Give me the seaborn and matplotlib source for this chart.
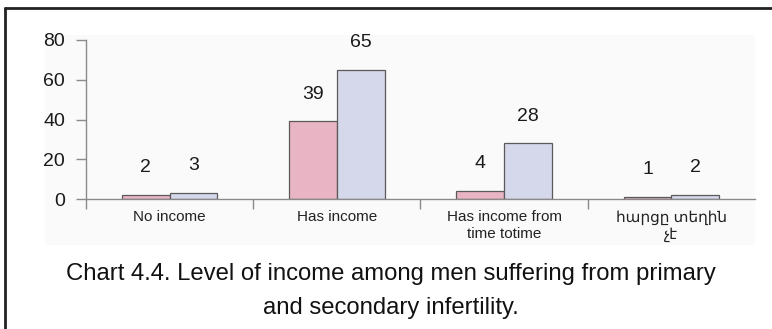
import matplotlib
matplotlib.use("Agg")
import matplotlib.pyplot as plt
import pandas as pd
import seaborn as sns
from matplotlib.lines import Line2D
from matplotlib.patches import Rectangle


CATEGORIES = ["No income", "Has income", "Has income from\ntime totime", "հարցը տեղին\nչէ"]
GROUPS = ["Primary infertility", "Secondary infertility"]
PRIMARY = [2, 39, 4, 1]
SECONDARY = [3, 65, 28, 2]
Y_TICKS = [0, 20, 40, 60, 80]
TITLE = "Chart 4.4. Level of income among men suffering from primary\nand secondary infertility."

COLORS = ["#e9b4c4", "#d5d7ea"]
AXIS_GREY = "#8a8a8a"
FONT = ["Liberation Sans", "DejaVu Sans"]


def build_frame():
    rows = []
    for group, values in zip(GROUPS, [PRIMARY, SECONDARY]):
        for cat, val in zip(CATEGORIES, values):
            rows.append({"category": cat, "group": group, "value": val})
    return pd.DataFrame(rows)


def main():
    sns.set_style("white")
    plt.rcParams["font.family"] = FONT

    df = build_frame()
    fig = plt.figure(figsize=(7.72, 3.29), dpi=100)

    # light panel behind the chart and the frame lines of the page
    fig.patches.append(Rectangle((45 / 772, 1 - 245 / 329), 710 / 772, 210 / 329,
                                 transform=fig.transFigure, facecolor="#fafafa",
                                 edgecolor="none", zorder=-5))
    fig.lines.append(Line2D([5 / 772, 1], [1 - 8 / 329, 1 - 8 / 329], transform=fig.transFigure,
                            color="#222222", linewidth=2))
    fig.lines.append(Line2D([5 / 772, 5 / 772], [0, 1 - 8 / 329], transform=fig.transFigure,
                            color="#222222", linewidth=2))

    ax = fig.add_axes([86 / 772, 1 - 199 / 329, 669 / 772, 159 / 329])
    ax.set_zorder(2)
    ax.set_facecolor("none")

    sns.barplot(data=df, x="category", y="value", hue="group", order=CATEGORIES,
                hue_order=GROUPS, palette=COLORS, saturation=1, width=0.57,
                edgecolor="#5a5a5a", linewidth=0.9, legend=False, ax=ax)

    for container in ax.containers:
        ax.bar_label(container, padding=13.5, fontsize=14, color="#1a1a1a")

    ax.set_xlim(-0.5, 3.5)
    ax.set_ylim(0, 80)
    ax.set_yticks(Y_TICKS)
    ax.set_xlabel("")
    ax.set_ylabel("")

    for side in ["top", "right"]:
        ax.spines[side].set_visible(False)
    for side in ["left", "bottom"]:
        ax.spines[side].set_color(AXIS_GREY)
        ax.spines[side].set_linewidth(1)

    ax.tick_params(axis="y", length=7, width=1, color=AXIS_GREY, pad=8,
                   labelsize=14, labelcolor="#1a1a1a", left=True)
    ax.tick_params(axis="x", which="major", length=0, pad=8, labelsize=11, labelcolor="#222222")
    ax.set_xticks([-0.5, 0.5, 1.5, 2.5], minor=True)
    ax.tick_params(axis="x", which="minor", length=7, width=1, color=AXIS_GREY, bottom=True)
    for lbl in ax.get_xticklabels():
        lbl.set_linespacing(1.25)
        lbl.set_verticalalignment("top")

    fig.text(0.506, 1 - 291 / 329, TITLE, ha="center", va="center", fontsize=17.2,
             linespacing=1.65, color="#111111")

    fig.savefig("out.png", dpi=100)
    plt.close(fig)


if __name__ == "__main__":
    main()
